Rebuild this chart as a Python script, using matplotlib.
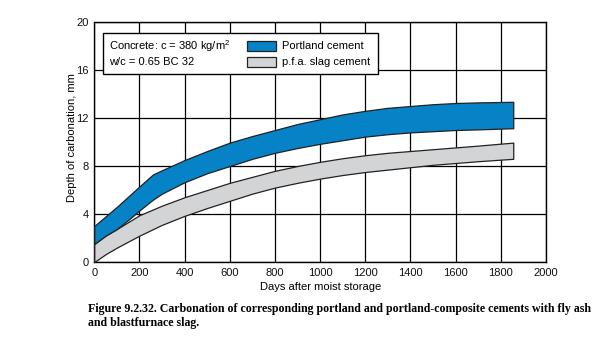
import matplotlib
matplotlib.use("Agg")
import matplotlib.pyplot as plt
from matplotlib.patches import Rectangle

# ---- data ----
pc_days = [0, 50, 100, 150, 200, 260, 300, 400, 500, 600, 700, 800, 900, 1000,
           1100, 1200, 1300, 1400, 1500, 1600, 1700, 1855]
pc_upper = [3.0, 3.8, 4.6, 5.45, 6.3, 7.3, 7.65, 8.5, 9.25, 9.95, 10.5, 11.0, 11.5, 11.9,
            12.3, 12.6, 12.85, 13.0, 13.15, 13.25, 13.3, 13.35]
pc_lower = [1.5, 2.2, 2.75, 3.5, 4.3, 5.2, 5.7, 6.65, 7.4, 8.0, 8.6, 9.1, 9.5, 9.85,
            10.15, 10.45, 10.65, 10.8, 10.9, 11.0, 11.05, 11.15]

slag_days = [0, 50, 100, 200, 300, 400, 500, 600, 700, 800, 900, 1000,
             1100, 1200, 1300, 1400, 1500, 1600, 1700, 1855]
slag_upper = [1.5, 2.2, 2.75, 3.9, 4.7, 5.4, 6.0, 6.6, 7.1, 7.6, 8.0, 8.35,
              8.65, 8.9, 9.1, 9.25, 9.4, 9.55, 9.7, 9.95]
slag_lower = [0.0, 0.65, 1.2, 2.2, 3.1, 3.85, 4.5, 5.1, 5.7, 6.2, 6.6, 6.95,
              7.25, 7.5, 7.7, 7.9, 8.1, 8.25, 8.4, 8.6]

x_ticks = [0, 200, 400, 600, 800, 1000, 1200, 1400, 1600, 1800, 2000]
y_ticks = [0, 4, 8, 12, 16, 20]
series_names = ["Portland cement", "p.f.a. slag cement"]
info_lines = ["Concrete: c = 380 kg/m$^{2}$", "w/c = 0.65 BC 32"]
x_label = "Days after moist storage"
y_label = "Depth of carbonation, mm"
caption = ("Figure 9.2.32. Carbonation of corresponding portland and portland-composite cements with fly ash\n"
           "and blastfurnace slag.")

BLUE = "#0682C6"
GREY = "#D3D4D6"
EDGE = "#222222"

plt.rcParams["font.family"] = ["Liberation Sans", "DejaVu Sans"]
plt.rcParams["mathtext.fontset"] = "custom"
plt.rcParams["mathtext.rm"] = "Liberation Sans"
plt.rcParams["mathtext.it"] = "Liberation Sans"
plt.rcParams["mathtext.default"] = "regular"

fig = plt.figure(figsize=(6.0, 3.55), dpi=100)
ax = fig.add_axes([94.3 / 600, 1 - 262 / 355, (546 - 94.3) / 600, (262 - 22) / 355])

ax.set_xlim(0, 2000)
ax.set_ylim(0, 20)
ax.set_xticks(x_ticks)
ax.set_yticks(y_ticks)
ax.grid(True, color="black", linewidth=0.9)
ax.set_axisbelow(True)
for s in ax.spines.values():
    s.set_color("black")
    s.set_linewidth(1.0)
ax.tick_params(length=0, pad=4, labelsize=8, colors="#111111")

ax.fill_between(slag_days, slag_lower, slag_upper, facecolor=GREY, edgecolor=EDGE,
                linewidth=0.9, zorder=3)
ax.fill_between(pc_days, pc_lower, pc_upper, facecolor=BLUE, edgecolor=EDGE,
                linewidth=0.9, zorder=4)

ax.set_xlabel(x_label, fontsize=8, labelpad=3)
ax.set_ylabel(y_label, fontsize=8)
ax.yaxis.set_label_coords((77 - 94.3) / 451.7, (262 - 138) / 240)

# legend box
fig.patches.append(Rectangle((103.3 / 600, 1 - 74 / 355), (378 - 103.3) / 600, (74 - 33.3) / 355,
                             transform=fig.transFigure, facecolor="white", edgecolor="black",
                             linewidth=1.0, zorder=5))
fig.text(109 / 600, 1 - 46 / 355, info_lines[0], fontsize=8, va="center", ha="left", zorder=6)
fig.text(109 / 600, 1 - 62 / 355, info_lines[1], fontsize=8, va="center", ha="left", zorder=6)
fig.patches.append(Rectangle((247 / 600, 1 - 51 / 355), 29 / 600, 10 / 355, transform=fig.transFigure,
                             facecolor=BLUE, edgecolor=EDGE, linewidth=0.9, zorder=6))
fig.patches.append(Rectangle((247 / 600, 1 - 67 / 355), 29 / 600, 10 / 355, transform=fig.transFigure,
                             facecolor=GREY, edgecolor=EDGE, linewidth=0.9, zorder=6))
fig.text(281.5 / 600, 1 - 46 / 355, series_names[0], fontsize=8, va="center", ha="left", zorder=6)
fig.text(281.5 / 600, 1 - 62 / 355, series_names[1], fontsize=8, va="center", ha="left", zorder=6)

fig.text(88 / 600, 1 - 303 / 355, caption, fontsize=8.6, fontweight="bold",
         family=["Liberation Serif", "DejaVu Serif"], va="top", ha="left", linespacing=1.25)

fig.savefig("out.png", dpi=100)
